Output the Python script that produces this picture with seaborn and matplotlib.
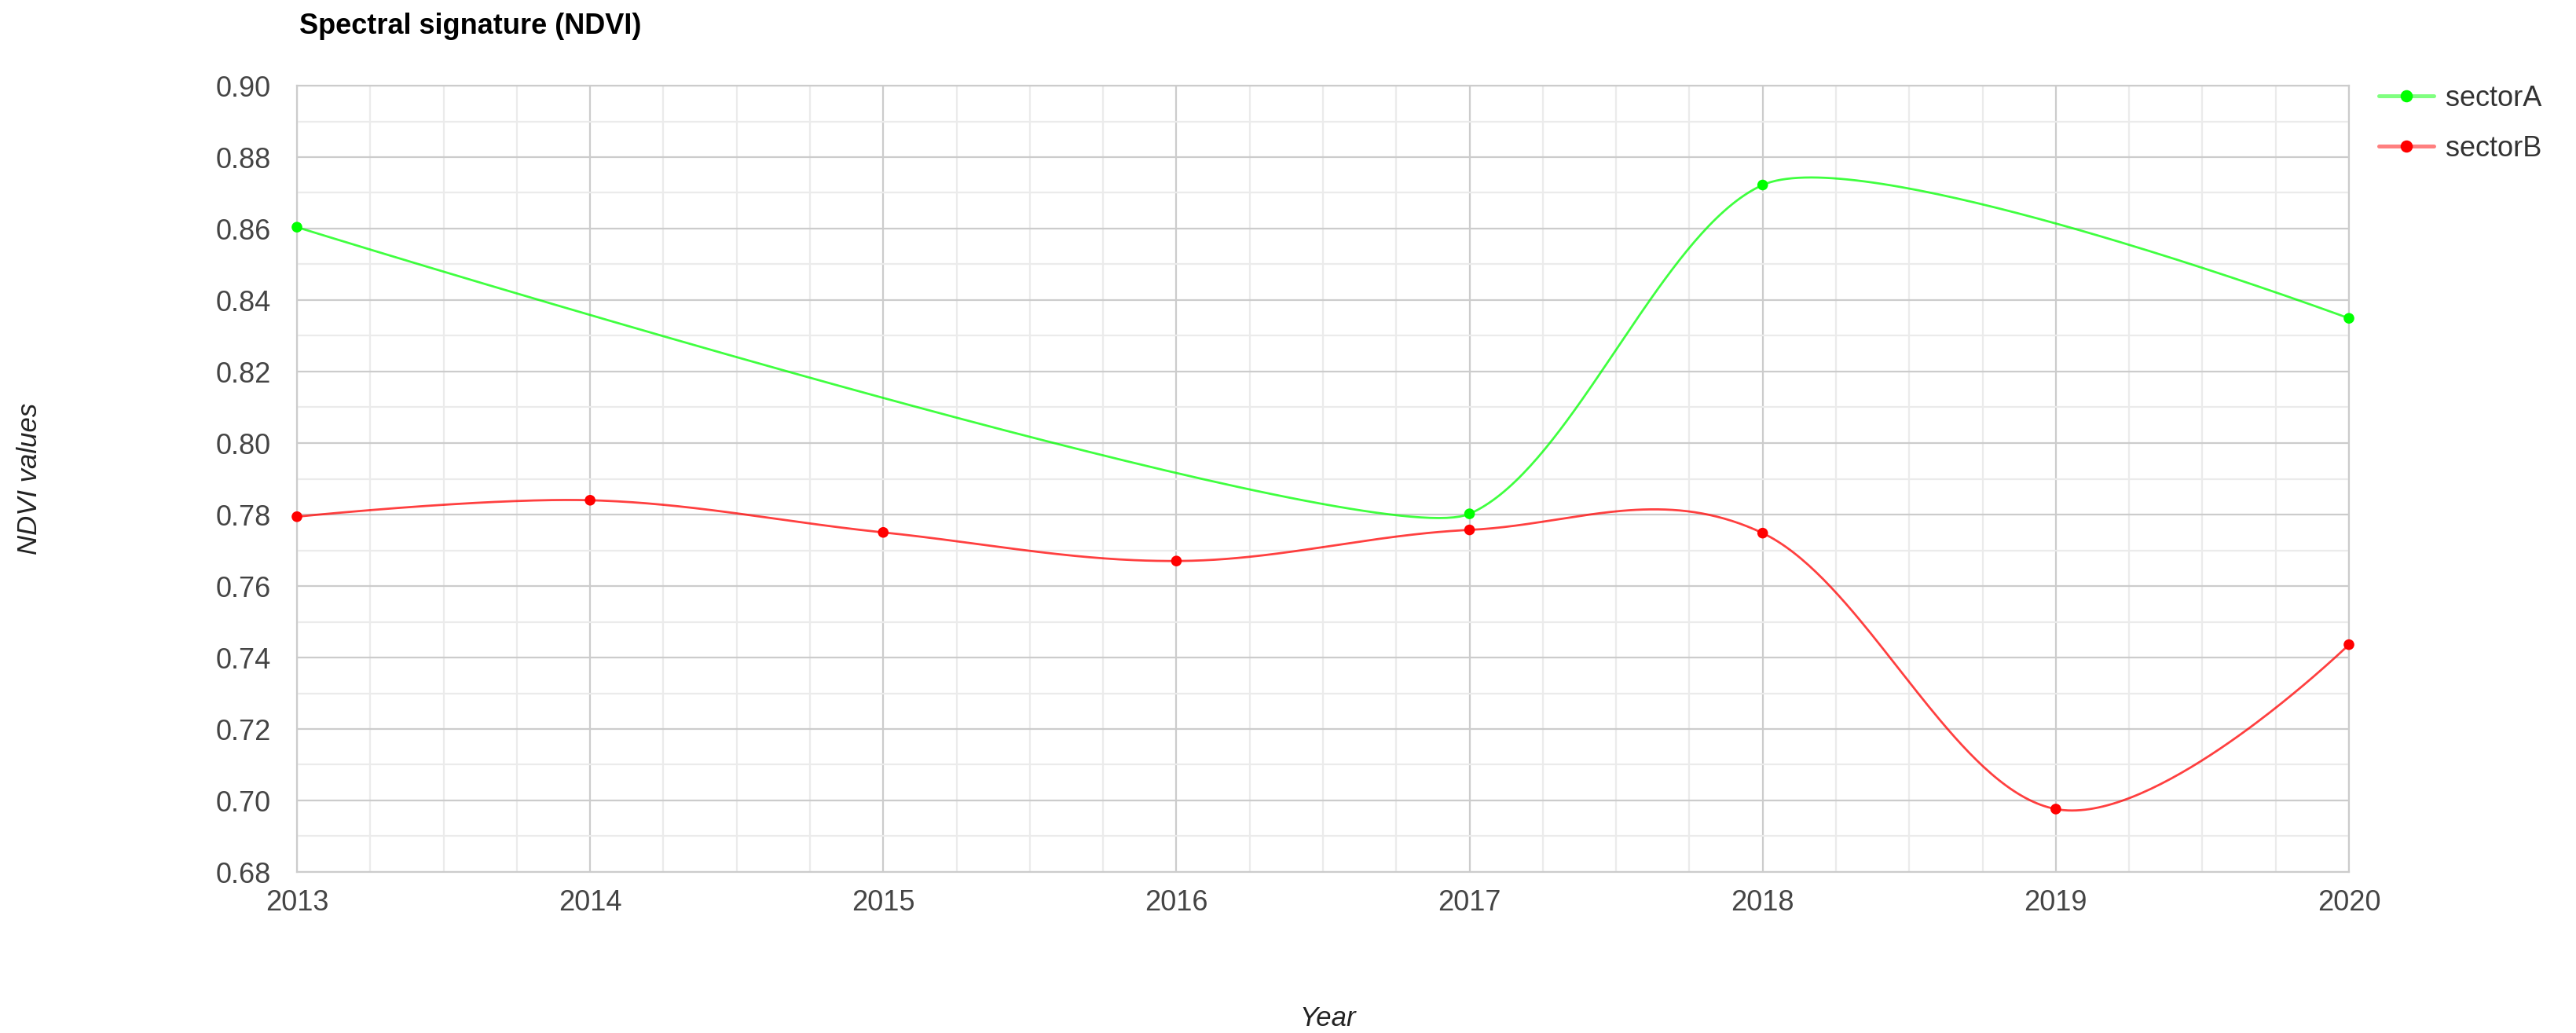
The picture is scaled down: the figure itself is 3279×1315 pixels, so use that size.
import numpy as np
import pandas as pd
import matplotlib
matplotlib.use("Agg")
import matplotlib.pyplot as plt
import seaborn as sns
from matplotlib.lines import Line2D
from matplotlib.ticker import MultipleLocator, FormatStrFormatter

# ==============================
# DATA
# ==============================
years = [2013, 2014, 2015, 2016, 2017, 2018, 2019, 2020]
sector_a = [0.8604, np.nan, np.nan, np.nan, 0.7802, 0.8722, np.nan, 0.8349]
sector_b = [0.7794, 0.7840, 0.7750, 0.7670, 0.7757, 0.7748, 0.6976, 0.7436]
series_names = ["sectorA", "sectorB"]
series_colors = {"sectorA": "#00ff00", "sectorB": "#ff0000"}
y_ticks = [0.68, 0.70, 0.72, 0.74, 0.76, 0.78, 0.80, 0.82, 0.84, 0.86, 0.88, 0.90]


def smooth_curve(xs, ys, arm=0.35, n=80):
    """Cubic bezier smoothing through the points (like a 'function' curve)."""
    xs = np.asarray(xs, float)
    ys = np.asarray(ys, float)
    keep = ~np.isnan(ys)
    xs, ys = xs[keep], ys[keep]
    dx = np.diff(xs)
    sec = np.diff(ys) / dx
    m = len(xs)
    slope = np.zeros(m)
    reach = np.zeros(m)
    for i in range(1, m - 1):
        slope[i] = (sec[i - 1] + sec[i]) / 2
        reach[i] = arm * min(dx[i - 1], dx[i])
    u = np.linspace(0, 1, n)[:, None]
    parts = []
    for i in range(m - 1):
        p0 = np.array([xs[i], ys[i]])
        p3 = np.array([xs[i + 1], ys[i + 1]])
        p1 = p0 + reach[i] * np.array([1, slope[i]])
        p2 = p3 - reach[i + 1] * np.array([1, slope[i + 1]])
        b = (1 - u) ** 3 * p0 + 3 * (1 - u) ** 2 * u * p1 + 3 * (1 - u) * u ** 2 * p2 + u ** 3 * p3
        parts.append(b if i == 0 else b[1:])
    return np.vstack(parts)


# ==============================
# BUILD TABLES
# ==============================
curves = []
points = []
for name, vals in zip(series_names, [sector_a, sector_b]):
    c = smooth_curve(years, vals)
    curves.append(pd.DataFrame({"year": c[:, 0], "ndvi": c[:, 1], "sector": name}))
    points.append(pd.DataFrame({"year": years, "ndvi": vals, "sector": name}).dropna())
curve_df = pd.concat(curves, ignore_index=True)
point_df = pd.concat(points, ignore_index=True)

# ==============================
# PLOT
# ==============================
sns.set_style("white")
plt.rcParams["font.family"] = ["Liberation Sans", "DejaVu Sans"]

W, H = 3279, 1315
fig = plt.figure(figsize=(W / 200, H / 200), dpi=200)
ax = fig.add_axes([378 / W, 1 - 1110 / H, (2990 - 378) / W, (1110 - 109) / H])

sns.lineplot(data=curve_df, x="year", y="ndvi", hue="sector", palette=series_colors,
             sort=False, estimator=None, legend=False, linewidth=1.0, alpha=0.75, ax=ax)
sns.scatterplot(data=point_df, x="year", y="ndvi", hue="sector", palette=series_colors,
                s=24, linewidth=0, legend=False, clip_on=False, zorder=5, ax=ax)

ax.set_xlim(years[0], years[-1])
ax.set_ylim(y_ticks[0], y_ticks[-1])
ax.set_xticks(years)
ax.set_xticklabels([str(y) for y in years])
ax.set_yticks(y_ticks)
ax.yaxis.set_major_formatter(FormatStrFormatter("%.2f"))
ax.xaxis.set_minor_locator(MultipleLocator(0.25))
ax.yaxis.set_minor_locator(MultipleLocator(0.01))

ax.set_axisbelow(True)
ax.grid(which="major", color="#cccccc", linewidth=0.8)
ax.grid(which="minor", color="#ebebeb", linewidth=0.8)
ax.tick_params(which="both", length=0)
ax.tick_params(axis="y", labelsize=13, labelcolor="#444444", pad=12)
ax.tick_params(axis="x", labelsize=13, labelcolor="#444444", pad=8)
for sp in ax.spines.values():
    sp.set_color("#cccccc")
    sp.set_linewidth(0.8)
ax.set_xlabel("")
ax.set_ylabel("")

fig.text(381 / W, 1 - 43 / H, "Spectral signature (NDVI)", fontsize=13, fontweight="bold",
         color="#000000", ha="left", va="baseline")
fig.text(38 / W, 1 - 609 / H, "NDVI values", fontsize=12.5, fontstyle="italic", color="#222222",
         rotation=90, ha="center", va="center")
fig.text(1690 / W, 1 - 1297 / H, "Year", fontsize=12.5, fontstyle="italic", color="#222222",
         ha="center", va="center")

handles = []
for name in series_names:
    col = matplotlib.colors.to_rgb(series_colors[name])
    handles.append(Line2D([0], [0], color=col + (0.5,), linewidth=1.8, marker="o",
                          markersize=4.6, markerfacecolor=col, markeredgecolor=col))
fig.legend(handles, series_names, loc="upper left", bbox_to_anchor=(3028 / W, 1 - 108 / H),
           frameon=False, fontsize=13, labelcolor="#333333", handlelength=1.95,
           handletextpad=0.4, labelspacing=0.8, borderpad=0, borderaxespad=0)

fig.savefig("out.png", dpi=200)
